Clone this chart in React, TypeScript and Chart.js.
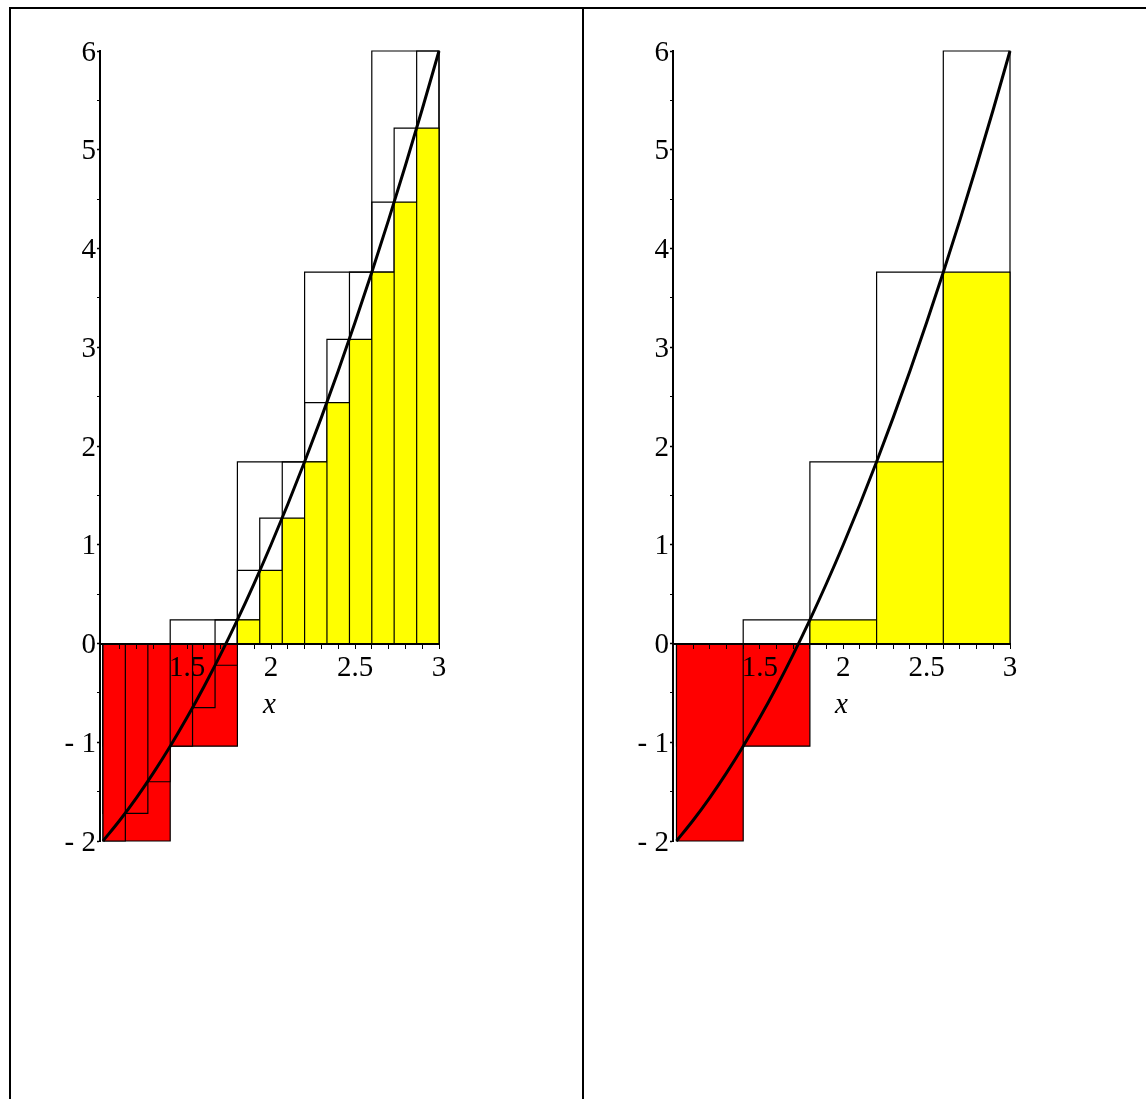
import React, { useEffect, useRef } from 'react';
import { Chart, registerables } from 'chart.js';

Chart.register(...registerables);

// ---- data ----
const partitionFine = [1, 1.133, 1.267, 1.4, 1.533, 1.667, 1.8, 1.933, 2.067, 2.2, 2.333, 2.467, 2.6, 2.733, 2.867, 3];
const lowerFine = [-2, -1.72, -1.4, -1.04, -0.65, -0.22, 0.24, 0.74, 1.27, 1.84, 2.44, 3.08, 3.76, 4.47, 5.22];
const upperFine = [-1.72, -1.4, -1.04, -0.65, -0.22, 0.24, 0.74, 1.27, 1.84, 2.44, 3.08, 3.76, 4.47, 5.22, 6];

const partitionCoarse = [1, 1.4, 1.8, 2.2, 2.6, 3];
const lowerCoarse = [-2, -1.04, 0.24, 1.84, 3.76];
const upperCoarse = [-1.04, 0.24, 1.84, 3.76, 6];

const curveX = [1, 1.1, 1.2, 1.3, 1.4, 1.5, 1.6, 1.7, 1.8, 1.9, 2, 2.1, 2.2, 2.3, 2.4, 2.5, 2.6, 2.7, 2.8, 2.9, 3];
const curveY = [-2, -1.79, -1.56, -1.31, -1.04, -0.75, -0.44, -0.11, 0.24, 0.61, 1, 1.41, 1.84, 2.29, 2.76, 3.25, 3.76, 4.29, 4.84, 5.41, 6];

const xTickValues = [1.1, 1.2, 1.3, 1.4, 1.5, 1.6, 1.7, 1.8, 1.9, 2, 2.1, 2.2, 2.3, 2.4, 2.5, 2.6, 2.7, 2.8, 2.9, 3];
const xLabelValues = [1.5, 2, 2.5, 3];
const xLabelTexts = ['1.5', '2', '2.5', '3'];

const yTickValues = [-2, -1.5, -1, -0.5, 0, 0.5, 1, 1.5, 2, 2.5, 3, 3.5, 4, 4.5, 5, 5.5, 6];
const yLabelValues = [-2, -1, 0, 1, 2, 3, 4, 5, 6];
const yLabelTexts = ['- 2', '- 1', '0', '1', '2', '3', '4', '5', '6'];

const FONT = '"Liberation Serif", "Times New Roman", serif';

function stepPoints(edges: number[], heights: number[]) {
  const pts: { x: number; y: number }[] = [];
  for (let i = 0; i < heights.length; i++) {
    pts.push({ x: edges[i], y: 0 });
    pts.push({ x: edges[i], y: heights[i] });
    pts.push({ x: edges[i + 1], y: heights[i] });
    pts.push({ x: edges[i + 1], y: 0 });
  }
  return pts;
}

function labelFor(values: number[], texts: string[], v: number) {
  for (let i = 0; i < values.length; i++) {
    if (Math.abs(values[i] - v) < 1e-6) return texts[i];
  }
  return '';
}

type PanelProps = {
  left: number;
  width: number;
  axisWidth: number;
  xMin: number;
  padRight: number;
  partitions: { edges: number[]; lower: number[]; upper: number[] }[];
};

function Panel({ left, width, axisWidth, xMin, padRight, partitions }: PanelProps) {
  const ref = useRef<HTMLCanvasElement | null>(null);
  useEffect(() => {
    if (!ref.current) return;
    const datasets: any[] = [];
    datasets.push({
      label: 'f',
      data: curveX.map((x, i) => ({ x, y: curveY[i] })),
      borderColor: '#000',
      borderWidth: 3,
      pointRadius: 0,
      cubicInterpolationMode: 'monotone',
      fill: false,
      clip: false,
      order: 0,
    });
    // lower sums (filled), finer partitions on top
    partitions.forEach((p, k) => {
      datasets.push({
        label: 'lower' + k,
        data: stepPoints(p.edges, p.lower),
        borderColor: '#000',
        borderWidth: 1.2,
        pointRadius: 0,
        tension: 0,
        fill: { target: 'origin', above: '#ffff00', below: '#ff0000' },
        clip: false,
        order: 1 + (partitions.length - 1 - k),
      });
    });
    // upper sums (outlines), drawn underneath
    partitions.forEach((p, k) => {
      datasets.push({
        label: 'upper' + k,
        data: stepPoints(p.edges, p.upper),
        borderColor: '#000',
        borderWidth: 1.2,
        pointRadius: 0,
        tension: 0,
        fill: false,
        clip: false,
        order: 10 + k,
      });
    });

    const chart = new Chart(ref.current, {
      type: 'line',
      data: { datasets },
      options: {
        animation: false,
        responsive: false,
        events: [],
        layout: { padding: { top: 51, bottom: 1099 - 841, left: 0, right: padRight } },
        plugins: { legend: { display: false }, tooltip: { enabled: false } },
        scales: {
          x: {
            type: 'linear',
            position: { y: 0 } as any,
            min: xMin,
            max: 3,
            afterBuildTicks: (s: any) => {
              s.ticks = xTickValues.map((v) => ({ value: v }));
            },
            ticks: {
              z: 2,
              autoSkip: false,
              maxRotation: 0,
              color: '#000',
              padding: 3,
              font: { family: FONT, size: 29 },
              callback: (v: any) => labelFor(xLabelValues, xLabelTexts, Number(v)),
            },
            grid: { z: 1, drawOnChartArea: false, drawTicks: true, tickLength: 4, color: '#000', tickColor: '#000', tickWidth: 1 },
            border: { z: 1, display: true, color: '#000', width: 2 },
            title: { display: true, text: 'x', color: '#000', padding: { top: 0, bottom: 0 }, font: { family: FONT, size: 29, style: 'italic' } },
          },
          y: {
            type: 'linear',
            position: 'left',
            min: -2,
            max: 6,
            afterBuildTicks: (s: any) => {
              s.ticks = yTickValues.map((v) => ({ value: v }));
            },
            afterFit: (s: any) => {
              s.width = axisWidth;
            },
            ticks: {
              autoSkip: false,
              color: '#000',
              padding: 1,
              labelOffset: 2,
              font: { family: FONT, size: 29 },
              callback: (v: any) => labelFor(yLabelValues, yLabelTexts, Number(v)),
            },
            grid: {
              drawOnChartArea: false,
              drawTicks: true,
              tickLength: 3,
              color: '#000',
              tickColor: '#000',
              tickWidth: (c: any) => (c.tick && Number.isInteger(c.tick.value) ? 1.5 : 1),
            },
            border: { display: true, color: '#000', width: 2 },
          },
        },
      } as any,
    });
    return () => chart.destroy();
  }, []);
  return (
    <canvas
      ref={ref}
      width={width}
      height={1099}
      style={{ position: 'absolute', left, top: 0, width, height: 1099 }}
    />
  );
}

export default function App() {
  const line = (s: React.CSSProperties) => <div style={{ position: 'absolute', background: '#000', zIndex: 2, ...s }} />;
  return (
    <div style={{ position: 'absolute', left: 0, top: 0, width: 1146, height: 1099, overflow: 'hidden', background: '#fff' }}>
      <Panel
        left={0}
        width={583}
        axisWidth={100}
        xMin={1 - 3 / 168}
        padRight={583 - 439}
        partitions={[
          { edges: partitionCoarse, lower: lowerCoarse, upper: upperCoarse },
          { edges: partitionFine, lower: lowerFine, upper: upperFine },
        ]}
      />
      <Panel
        left={583}
        width={563}
        axisWidth={90}
        xMin={1 - 3.5 / 166.75}
        padRight={1146 - 1010}
        partitions={[{ edges: partitionCoarse, lower: lowerCoarse, upper: upperCoarse }]}
      />
      {line({ left: 9, top: 7, width: 1137, height: 2 })}
      {line({ left: 9, top: 7, width: 2, height: 1092 })}
      {line({ left: 582, top: 7, width: 2, height: 1092 })}
    </div>
  );
}
